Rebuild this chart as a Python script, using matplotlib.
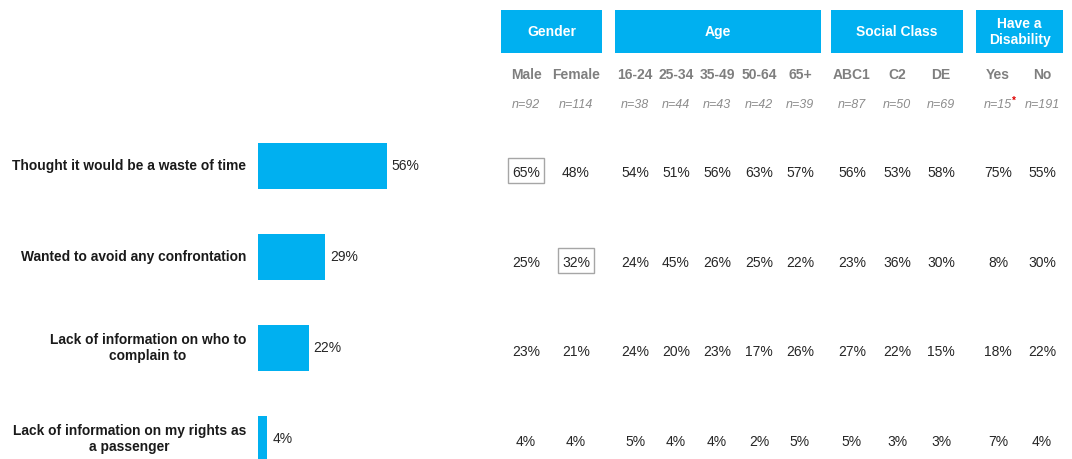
import matplotlib
matplotlib.use("Agg")
import matplotlib.pyplot as plt
from matplotlib.patches import Rectangle

plt.rcParams['font.family'] = ['Liberation Sans', 'DejaVu Sans']

# data
reasons = ["Thought it would be a waste of time",
           "Wanted to avoid any confrontation",
           "Lack of information on who to\ncomplain to",
           "Lack of information on my rights as\na passenger"]
total = [56, 29, 22, 4]

groups = ["Gender", "Age", "Social Class", "Have a\nDisability"]
columns = ["Male", "Female", "16-24", "25-34", "35-49", "50-64", "65+",
           "ABC1", "C2", "DE", "Yes", "No"]
base_n = [92, 114, 38, 44, 43, 42, 39, 87, 50, 69, 15, 191]
low_base = ["Yes"]
table = [
    [65, 48, 54, 51, 56, 63, 57, 56, 53, 58, 75, 55],
    [25, 32, 24, 45, 26, 25, 22, 23, 36, 30, 8, 30],
    [23, 21, 24, 20, 23, 17, 26, 27, 22, 15, 18, 22],
    [4, 4, 5, 4, 4, 2, 5, 5, 3, 3, 7, 4],
]
highlight = [(0, "Male"), (1, "Female")]

# layout (pixels)
W, H = 1072, 459
blue = "#00B0F0"
col_x = [526, 576, 635, 676, 717, 759, 800, 852, 897, 941, 998, 1042]
row_y = [173, 263, 352, 442]
group_box = [(501, 602), (615, 821), (831, 963), (976, 1063)]

fig = plt.figure(figsize=(W / 100, H / 100), dpi=100)

# bar chart
ax = fig.add_axes([258 / W, 0, 230 / W, 339 / H])
ypos = list(range(len(reasons)))
ax.barh(ypos, total, height=0.495, color=blue, edgecolor="none")
ax.set_xlim(0, 100)
ax.set_ylim(3.2198, -0.5055)
ax.axis("off")
for y, v in zip(ypos, total):
    ax.text(v + 2.2, y, f"{v}%", va="center", ha="left", fontsize=10, color="#262626")
for y, lab in zip(ypos, reasons):
    ax.text(-5.2, y, lab, va="center", ha="right", fontsize=9.9,
            fontweight="bold", color="#1a1a1a", multialignment="center",
            linespacing=1.25)

# table overlay
tx = fig.add_axes([0, 0, 1, 1])
tx.set_xlim(0, W)
tx.set_ylim(H, 0)
tx.axis("off")

for name, (x0, x1) in zip(groups, group_box):
    tx.add_patch(Rectangle((x0, 10), x1 - x0, 43, color=blue, lw=0))
    tx.text((x0 + x1) / 2, 32, name, ha="center", va="center", color="white",
            fontsize=10, fontweight="bold", linespacing=1.2)

for x, c, n in zip(col_x, columns, base_n):
    tx.text(x, 75, c, ha="center", va="center", fontsize=10, fontweight="bold",
            color="#7f7f7f")
    tx.text(x, 105, f"n={n}", ha="center", va="center", fontsize=9,
            style="italic", color="#8c8c8c")
    if c in low_base:
        tx.text(x + 16, 101, "*", ha="center", va="center", fontsize=7,
                color="#e00000", fontweight="bold")

for r, (y, vals) in enumerate(zip(row_y, table)):
    for x, c, v in zip(col_x, columns, vals):
        tx.text(x, y, f"{v}%", ha="center", va="center", fontsize=10,
                color="#262626")
        if (r, c) in highlight:
            tx.add_patch(Rectangle((x - 18, y - 15), 36, 25, fill=False,
                                   ec="#a6a6a6", lw=1))

fig.savefig("out.png", dpi=100)
